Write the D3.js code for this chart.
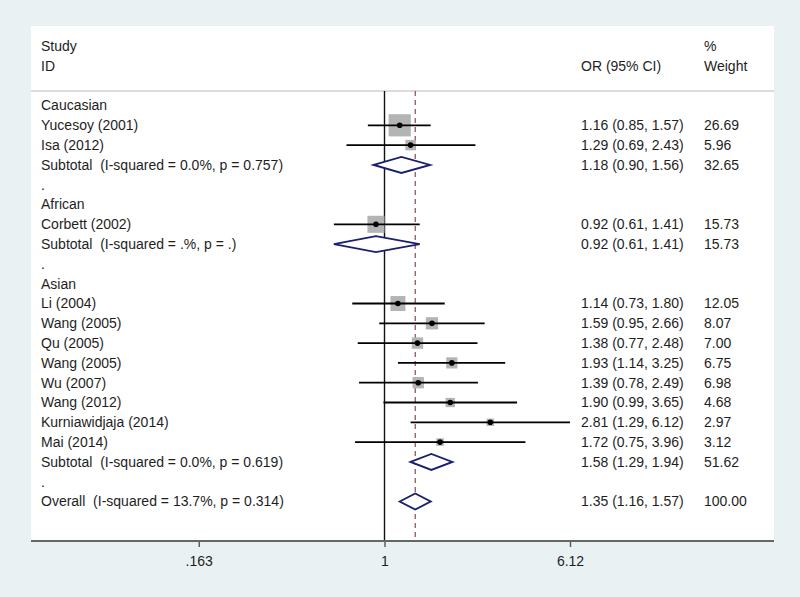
<!DOCTYPE html>
<html><head><meta charset="utf-8">
<script src="https://cdn.jsdelivr.net/npm/d3@7"></script>
<style>
html,body{margin:0;padding:0;background:#eaf1f3;}
svg{display:block;}
text{font-family:"Liberation Sans",Arial,sans-serif;font-size:14px;fill:#1e1e1e;white-space:pre;}
</style></head>
<body>
<svg id="chart" width="800" height="597"></svg>
<script>
// ---- data ----
const labels = ["Caucasian","Yucesoy (2001)","Isa (2012)","Subtotal  (I-squared = 0.0%, p = 0.757)",".",
  "African","Corbett (2002)","Subtotal  (I-squared = .%, p = .)",".",
  "Asian","Li (2004)","Wang (2005)","Qu (2005)","Wang (2005)","Wu (2007)","Wang (2012)","Kurniawidjaja (2014)","Mai (2014)",
  "Subtotal  (I-squared = 0.0%, p = 0.619)",".","Overall  (I-squared = 13.7%, p = 0.314)"];
const rowType = ["head","study","study","sub","blank","head","study","sub","blank","head",
  "study","study","study","study","study","study","study","study","sub","blank","sub"];
const orVals = [null,1.16,1.29,1.18,null,null,0.92,0.92,null,null,1.14,1.59,1.38,1.93,1.39,1.90,2.81,1.72,1.58,null,1.35];
const loVals = [null,0.85,0.69,0.90,null,null,0.61,0.61,null,null,0.73,0.95,0.77,1.14,0.78,0.99,1.29,0.75,1.29,null,1.16];
const hiVals = [null,1.57,2.43,1.56,null,null,1.41,1.41,null,null,1.80,2.66,2.48,3.25,2.49,3.65,6.12,3.96,1.94,null,1.57];
const weights = [null,26.69,5.96,32.65,null,null,15.73,15.73,null,null,12.05,8.07,7.00,6.75,6.98,4.68,2.97,3.12,51.62,null,100.00];
const tickVals = [0.163,1,6.12];
const tickLabels = [".163","1","6.12"];
const overallOR = 1.35;

const svg = d3.select("#chart");
const panel = {x0:31, x1:774, y0:26, y1:541};

svg.append("rect").attr("x",panel.x0).attr("y",panel.y0)
  .attr("width",panel.x1-panel.x0).attr("height",panel.y1-panel.y0).attr("fill","#ffffff");

const x = d3.scaleLog().domain([1/6.12, 6.12]).range([199, 570]);
const y = d3.scaleLinear().domain([0, 20]).range([105.5, 501.5]);

// header
const hdr = svg.append("g");
hdr.append("text").attr("x",41).attr("y",46).attr("dy","0.35em").text("Study");
hdr.append("text").attr("x",41).attr("y",66).attr("dy","0.35em").text("ID");
hdr.append("text").attr("x",581).attr("y",66).attr("dy","0.35em").text("OR (95% CI)");
hdr.append("text").attr("x",704).attr("y",46).attr("dy","0.35em").text("%");
hdr.append("text").attr("x",704).attr("y",66).attr("dy","0.35em").text("Weight");
svg.append("line").attr("x1",panel.x0).attr("x2",panel.x1).attr("y1",91).attr("y2",91)
  .attr("stroke","#d0d0d0").attr("stroke-width",1.5);

// reference lines
svg.append("line").attr("x1",x(1)).attr("x2",x(1)).attr("y1",91).attr("y2",panel.y1)
  .attr("stroke","#111").attr("stroke-width",1.4);
svg.append("line").attr("x1",x(overallOR)).attr("x2",x(overallOR)).attr("y1",91).attr("y2",panel.y1)
  .attr("stroke","#8b4a4a").attr("stroke-width",1.2).attr("stroke-dasharray","5,4");

const rows = labels.map((l,i)=>({i, label:l, type:rowType[i], or:orVals[i], lo:loVals[i], hi:hiVals[i], w:weights[i]}));

// labels
svg.append("g").selectAll("text").data(rows).join("text")
  .attr("x",41).attr("y",d=>y(d.i)).attr("dy","0.35em").attr("xml:space","preserve").text(d=>d.label);
svg.append("g").selectAll("text").data(rows.filter(d=>d.or!==null)).join("text")
  .attr("x",581).attr("y",d=>y(d.i)).attr("dy","0.35em")
  .text(d=>`${d.or.toFixed(2)} (${d.lo.toFixed(2)}, ${d.hi.toFixed(2)})`);
svg.append("g").selectAll("text").data(rows.filter(d=>d.w!==null)).join("text")
  .attr("x",704).attr("y",d=>y(d.i)).attr("dy","0.35em").text(d=>d.w.toFixed(2));

const studies = rows.filter(d=>d.type==="study");
// boxes
svg.append("g").selectAll("rect").data(studies).join("rect")
  .attr("x",d=>x(d.or)-2.15*Math.sqrt(d.w)).attr("y",d=>y(d.i)-2.15*Math.sqrt(d.w))
  .attr("width",d=>4.3*Math.sqrt(d.w)).attr("height",d=>4.3*Math.sqrt(d.w))
  .attr("fill","#b4b4b4");
// CI lines
svg.append("g").selectAll("line").data(studies).join("line")
  .attr("x1",d=>x(d.lo)).attr("x2",d=>x(d.hi)).attr("y1",d=>y(d.i)).attr("y2",d=>y(d.i))
  .attr("stroke","#000").attr("stroke-width",1.8);
// dots
svg.append("g").selectAll("circle").data(studies).join("circle")
  .attr("cx",d=>x(d.or)).attr("cy",d=>y(d.i)).attr("r",2.8).attr("fill","#000");

// diamonds
const subs = rows.filter(d=>d.type==="sub");
svg.append("g").selectAll("path").data(subs).join("path")
  .attr("d",d=>{const yc=y(d.i);return `M${x(d.lo)},${yc}L${x(d.or)},${yc-8}L${x(d.hi)},${yc}L${x(d.or)},${yc+8}Z`;})
  .attr("fill","#fff").attr("stroke","#1a1f6e").attr("stroke-width",1.9);

// axis
const axis = d3.axisBottom(x).tickValues(tickVals).tickFormat((d,i)=>tickLabels[i]).tickSize(6).tickSizeOuter(0);
const ag = svg.append("g").attr("transform",`translate(0,${panel.y1})`).call(axis);
ag.select(".domain").remove();
ag.selectAll(".tick line").attr("stroke","#555").attr("stroke-width",1.4);
ag.selectAll(".tick text").attr("y",20).attr("dy","0.35em").style("font-family","Liberation Sans, Arial, sans-serif").style("font-size","14px").attr("fill","#1e1e1e");
svg.append("line").attr("x1",panel.x0).attr("x2",panel.x1).attr("y1",panel.y1).attr("y2",panel.y1)
  .attr("stroke","#666").attr("stroke-width",2);
</script>
</body></html>
